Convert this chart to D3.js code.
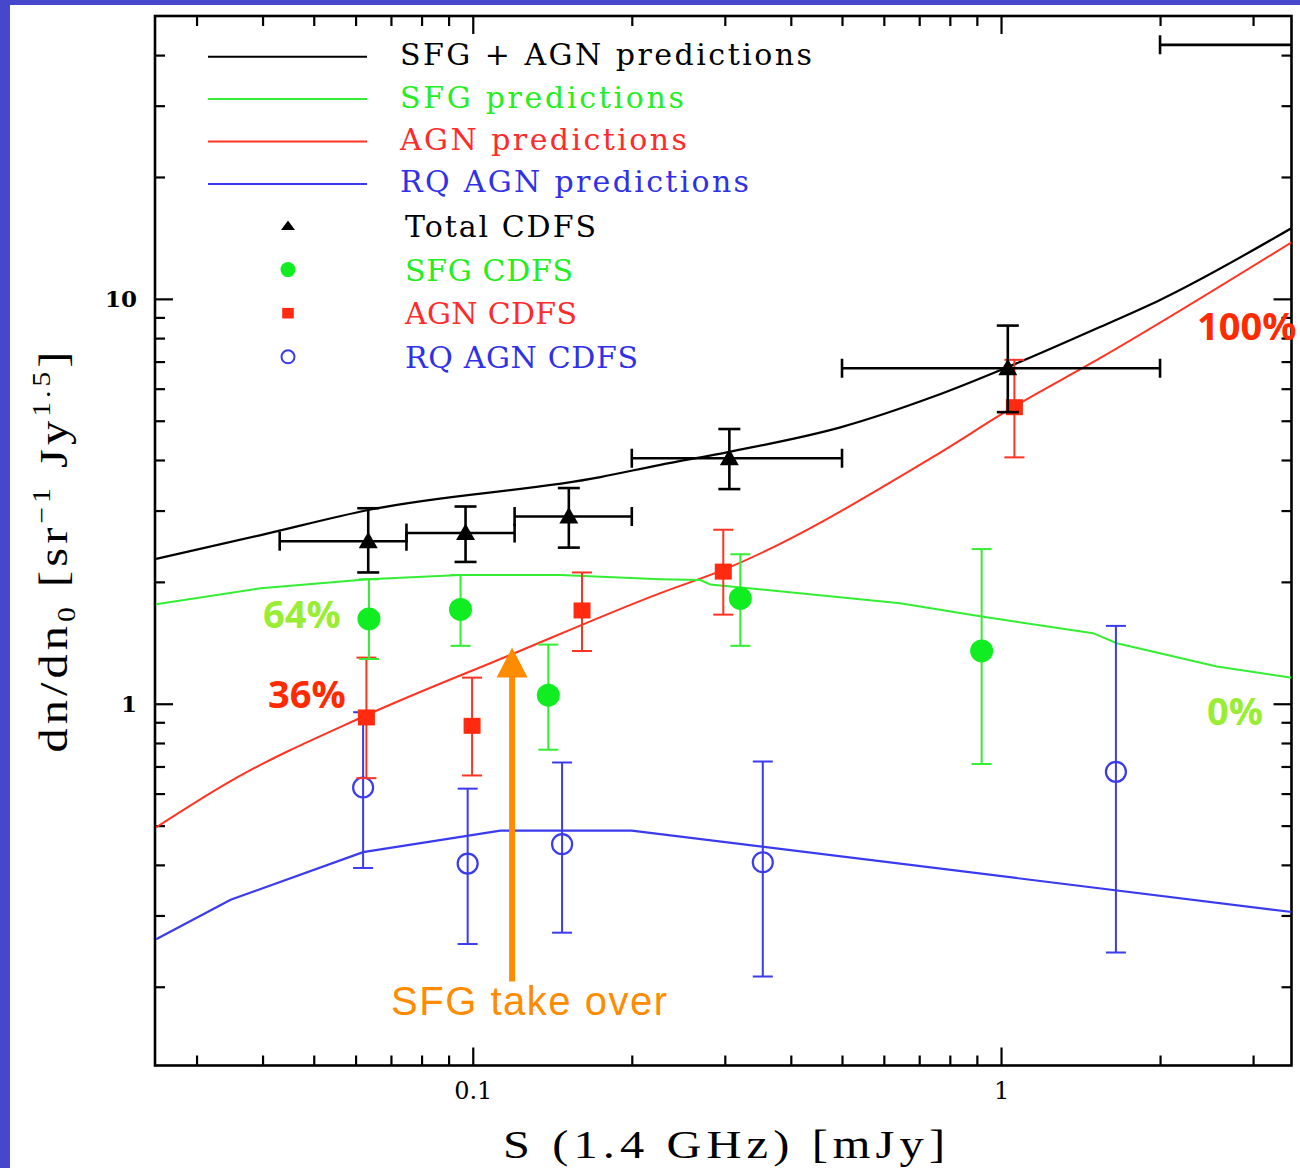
<!DOCTYPE html>
<html>
<head>
<meta charset="utf-8">
<script src="https://cdn.jsdelivr.net/npm/d3@7"></script>
<style>
  body { margin: 0; background: #fff; }
  svg { display: block; }
</style>
</head>
<body>
<svg id="chart" width="1300" height="1168"></svg>
<script>
// ---- CDFS points ----
var totS    = [0.0634, 0.0969, 0.152, 0.306, 1.03, 4.0];
var totN    = [2.52, 2.64, 2.90, 4.04, 6.74, 42.4];
var totLo   = [2.11, 2.24, 2.43, 3.39, 5.25, 36.0];
var totHi   = [3.04, 3.07, 3.41, 4.77, 8.59, 50.0];
var totSLo  = [0.0431, 0.0749, 0.12, 0.2, 0.5, 2.0];
var totSHi  = [0.0749, 0.12, 0.2, 0.5, 2.0, 8.0];

var sfgS  = [0.0636, 0.0948, 0.139, 0.321, 0.919];
var sfgN  = [1.62, 1.71, 1.05, 1.82, 1.35];
var sfgLo = [1.29, 1.39, 0.77, 1.39, 0.71];
var sfgHi = [2.03, 2.08, 1.40, 2.34, 2.41];

var agnS  = [0.0629, 0.0997, 0.161, 0.298, 1.06];
var agnN  = [0.925, 0.882, 1.70, 2.12, 5.40];
var agnLo = [0.655, 0.665, 1.35, 1.66, 4.06];
var agnHi = [1.30, 1.16, 2.11, 2.69, 7.07];

var rqS  = [0.062, 0.0978, 0.1476, 0.354, 1.65];
var rqN  = [0.621, 0.403, 0.450, 0.406, 0.679];
var rqLo = [0.393, 0.255, 0.272, 0.212, 0.243];
var rqHi = [0.953, 0.617, 0.716, 0.720, 1.557];

// ---- model predictions ----
var predTotS = [0.02515, 0.0397, 0.0634, 0.1744, 0.2265, 0.3058, 0.5003, 0.7435, 1.031, 1.539, 2.0, 3.55];
var predTotN = [2.28, 2.61, 3.01, 3.63, 3.89, 4.19, 4.83, 5.73, 6.79, 8.52, 9.94, 14.96];
var predSfgS = [0.02515, 0.0397, 0.0634, 0.0948, 0.1465, 0.2265, 0.2696, 0.2816, 0.644, 0.919, 1.493, 1.657, 2.562, 3.55];
var predSfgN = [1.762, 1.929, 2.031, 2.081, 2.081, 2.031, 2.02, 1.97, 1.772, 1.642, 1.494, 1.411, 1.236, 1.160];
var predAgnS = [0.02515, 0.0348, 0.0621, 0.1178, 0.2265, 0.298, 0.7435, 1.054, 1.539, 3.55];
var predAgnN = [0.495, 0.644, 0.930, 1.32, 1.876, 2.141, 4.07, 5.40, 7.135, 13.8];
var predRqS  = [0.02515, 0.0348, 0.062, 0.1128, 0.2, 3.55];
var predRqN  = [0.262, 0.328, 0.430, 0.486, 0.486, 0.306];

// ---- axes ticks ----
var xMajor = [0.1, 1];
var xMajorLabels = ["0.1", "1"];
var xMinor = [0.03, 0.04, 0.05, 0.06, 0.07, 0.08, 0.09, 0.2, 0.3, 0.4, 0.5, 0.6, 0.7, 0.8, 0.9, 2, 3];
var yMajor = [1, 10];
var yMajorLabels = ["1", "10"];
var yMinor = [0.2, 0.3, 0.4, 0.5, 0.6, 0.7, 0.8, 0.9, 2, 3, 4, 5, 6, 7, 8, 9, 20, 30, 40];

var legendLines = ["SFG + AGN predictions", "SFG predictions", "AGN predictions", "RQ AGN predictions"];
var legendPoints = ["Total CDFS", "SFG CDFS", "AGN CDFS", "RQ AGN CDFS"];

var BLACK = "#000", GREEN = "#33ee33", RED = "#ff3322", BLUE = "#3a3aee";

var svg = d3.select("#chart");
svg.append("rect").attr("width", 1300).attr("height", 1168).attr("fill", "#fff");
svg.append("rect").attr("x", 0).attr("y", 0).attr("width", 10).attr("height", 1168).attr("fill", "#4747cc");
svg.append("rect").attr("x", 0).attr("y", 0).attr("width", 1300).attr("height", 5).attr("fill", "#4747cc");

var L = 155, R = 1291.5, T = 16, B = 1065.5;
var x = d3.scaleLog().domain([0.02503, 3.547]).range([L, R]);
var y = d3.scaleLog().domain([0.1278, 49.96]).range([B, T]);

// ---- ticks on all four sides ----
function ticks(axis, vals, size, fmt) {
  return axis.tickValues(vals).tickSize(size).tickFormat(fmt || "");
}
var axes = svg.append("g").attr("class", "axes");
axes.append("g").attr("transform", "translate(0," + B + ")").call(ticks(d3.axisBottom(x), xMinor, -10));
axes.append("g").attr("transform", "translate(0," + T + ")").call(ticks(d3.axisTop(x), xMinor, -10));
axes.append("g").attr("transform", "translate(0," + T + ")").call(ticks(d3.axisTop(x), xMajor, -18));
axes.append("g").attr("transform", "translate(" + L + ",0)").call(ticks(d3.axisLeft(y), yMinor, -10));
axes.append("g").attr("transform", "translate(" + R + ",0)").call(ticks(d3.axisRight(y), yMinor, -10));
axes.append("g").attr("transform", "translate(" + R + ",0)").call(ticks(d3.axisRight(y), yMajor, -18));

var xLab = axes.append("g").attr("transform", "translate(0," + B + ")")
  .call(ticks(d3.axisBottom(x), xMajor, -18, function(d, i) { return xMajorLabels[i]; }).tickPadding(16));
xLab.selectAll("text").attr("font-family", "DejaVu Serif").attr("font-size", 24).attr("fill", "#000");

var yLab = axes.append("g").attr("transform", "translate(" + L + ",0)")
  .call(ticks(d3.axisLeft(y), yMajor, -18, function(d, i) { return yMajorLabels[i]; }).tickPadding(18));
yLab.selectAll("text").attr("font-family", "DejaVu Serif").attr("font-weight", "bold").attr("font-size", 23).attr("fill", "#000");

axes.selectAll(".domain").remove();
axes.selectAll(".tick line").attr("stroke", "#000").attr("stroke-width", 2.2);

svg.append("rect").attr("x", L).attr("y", T).attr("width", R - L).attr("height", B - T)
  .attr("fill", "none").attr("stroke", "#000").attr("stroke-width", 2.6);

// ---- plot contents (clipped to frame) ----
svg.append("clipPath").attr("id", "plotclip").append("rect")
  .attr("x", L).attr("y", T).attr("width", R - L).attr("height", B - T);
var plot = svg.append("g").attr("clip-path", "url(#plotclip)");

function drawPred(S, N, color, w, curve) {
  var line = d3.line().curve(curve)
    .x(function(d) { return x(d[0]); }).y(function(d) { return y(d[1]); });
  plot.append("path").datum(d3.zip(S, N)).attr("d", line)
    .attr("fill", "none").attr("stroke", color).attr("stroke-width", w);
}
drawPred(predRqS, predRqN, BLUE, 2.2, d3.curveLinear);
drawPred(predAgnS, predAgnN, RED, 2, d3.curveMonotoneX);
drawPred(predSfgS, predSfgN, GREEN, 2, d3.curveLinear);
drawPred(predTotS, predTotN, BLACK, 2.2, d3.curveMonotoneX);

function errBars(S, lo, hi, color, w, cap) {
  var g = plot.append("g").attr("stroke", color).attr("stroke-width", w);
  S.forEach(function(s, i) {
    var cx = x(s);
    g.append("line").attr("x1", cx).attr("x2", cx).attr("y1", y(lo[i])).attr("y2", y(hi[i]));
    g.append("line").attr("x1", cx - cap).attr("x2", cx + cap).attr("y1", y(lo[i])).attr("y2", y(lo[i]));
    g.append("line").attr("x1", cx - cap).attr("x2", cx + cap).attr("y1", y(hi[i])).attr("y2", y(hi[i]));
  });
}
function xBars(N, sLo, sHi, color, w, cap) {
  var g = plot.append("g").attr("stroke", color).attr("stroke-width", w);
  N.forEach(function(n, i) {
    var cy = y(n);
    g.append("line").attr("x1", x(sLo[i])).attr("x2", x(sHi[i])).attr("y1", cy).attr("y2", cy);
    g.append("line").attr("x1", x(sLo[i])).attr("x2", x(sLo[i])).attr("y1", cy - cap).attr("y2", cy + cap);
    g.append("line").attr("x1", x(sHi[i])).attr("x2", x(sHi[i])).attr("y1", cy - cap).attr("y2", cy + cap);
  });
}

function triPath(w, top, bot) {
  return "M0," + (-top) + "L" + (w / 2) + "," + bot + "L" + (-w / 2) + "," + bot + "Z";
}

errBars(rqS, rqLo, rqHi, BLUE, 2, 10);
plot.append("g").selectAll("circle").data(d3.zip(rqS, rqN)).enter().append("circle")
  .attr("cx", function(d) { return x(d[0]); }).attr("cy", function(d) { return y(d[1]); })
  .attr("r", 10).attr("fill", "none").attr("stroke", BLUE).attr("stroke-width", 2.2);

errBars(agnS, agnLo, agnHi, RED, 2, 10);
plot.append("g").selectAll("rect").data(d3.zip(agnS, agnN)).enter().append("rect")
  .attr("x", function(d) { return x(d[0]) - 8.5; }).attr("y", function(d) { return y(d[1]) - 8; })
  .attr("width", 17).attr("height", 16).attr("fill", "#ff2a10");

errBars(sfgS, sfgLo, sfgHi, GREEN, 2, 10);
plot.append("g").selectAll("circle").data(d3.zip(sfgS, sfgN)).enter().append("circle")
  .attr("cx", function(d) { return x(d[0]); }).attr("cy", function(d) { return y(d[1]); })
  .attr("r", 11.5).attr("fill", "#10ee22");

errBars(totS, totLo, totHi, BLACK, 2.6, 11);
xBars(totN, totSLo, totSHi, BLACK, 2.6, 9.5);
plot.append("g").selectAll("path").data(d3.zip(totS, totN)).enter().append("path")
  .attr("transform", function(d) { return "translate(" + x(d[0]) + "," + y(d[1]) + ")"; })
  .attr("d", triPath(19, 9.5, 7)).attr("fill", "#000");

// ---- legend ----
var leg = svg.append("g").attr("font-family", "DejaVu Serif").attr("font-size", 30);
var lineColors = [BLACK, GREEN, RED, BLUE];
var lineTextColors = ["#000", "#22ee22", "#ff2a2a", "#3030e8"];
var lineTextW = [412, 284, 287, 349];
legendLines.forEach(function(t, i) {
  var ly = 56.7 + i * 42.4;
  leg.append("line").attr("x1", 208).attr("x2", 367).attr("y1", ly).attr("y2", ly)
    .attr("stroke", lineColors[i]).attr("stroke-width", 2);
  leg.append("text").attr("x", 400).attr("y", ly + 8.5).attr("fill", lineTextColors[i])
    .attr("textLength", lineTextW[i]).attr("lengthAdjust", "spacing").text(t);
});
var ptTextW = [191, 168, 172, 233];
legendPoints.forEach(function(t, i) {
  var py = 226 + i * 43.6;
  var mk = leg.append("g").attr("transform", "translate(288," + py + ")");
  if (i === 0) mk.append("path").attr("d", triPath(14, 5.5, 4)).attr("fill", "#000");
  if (i === 1) mk.append("circle").attr("r", 7.5).attr("fill", "#10ee22");
  if (i === 2) mk.append("rect").attr("x", -5.8).attr("y", -5.3).attr("width", 11.6).attr("height", 10.6).attr("fill", "#ff2a10");
  if (i === 3) mk.append("circle").attr("r", 6.5).attr("fill", "none").attr("stroke", BLUE).attr("stroke-width", 2);
  leg.append("text").attr("x", 405).attr("y", py + 11).attr("fill", lineTextColors[i])
    .attr("textLength", ptTextW[i]).attr("lengthAdjust", "spacing").text(t);
});

// ---- axis titles (glyphs stretched a bit, like the wide TeX face) ----
var stretch = 1.18;
svg.append("text").attr("transform", "translate(503,1158) scale(" + stretch + ",1)")
  .attr("font-family", "Liberation Serif").attr("font-size", 41).attr("fill", "#000")
  .attr("textLength", 442 / stretch).attr("lengthAdjust", "spacing")
  .text("S (1.4 GHz) [mJy]");

var yt = svg.append("text").attr("transform", "translate(67,552) rotate(-90) scale(" + stretch + ",1)")
  .attr("text-anchor", "middle").attr("font-family", "Liberation Serif").attr("font-size", 41)
  .attr("fill", "#000").attr("textLength", 401 / stretch).attr("lengthAdjust", "spacing");
yt.append("tspan").text("dn/dn");
yt.append("tspan").attr("font-size", 25).attr("dy", 8).text("0");
yt.append("tspan").attr("dy", -8).text(" [sr");
yt.append("tspan").attr("font-size", 25).attr("dy", -17).text("\u22121");
yt.append("tspan").attr("dy", 17).text(" Jy");
yt.append("tspan").attr("font-size", 25).attr("dy", -17).text("1.5");
yt.append("tspan").attr("dy", 17).text("]");

// ---- annotations ----
var ann = svg.append("g").attr("font-family", "Open Sans").attr("font-weight", "bold").attr("font-size", 38);
ann.append("text").attr("x", 1197).attr("y", 340).attr("fill", "#ff2a00").text("100%");
ann.append("text").attr("x", 263).attr("y", 628).attr("fill", "#99ee33").text("64%");
ann.append("text").attr("x", 268).attr("y", 708).attr("fill", "#ff2a00").text("36%");
ann.append("text").attr("x", 1207).attr("y", 725).attr("fill", "#99ee33").text("0%");

var ax = x(0.1187);
svg.append("line").attr("x1", ax).attr("x2", ax).attr("y1", y(0.206)).attr("y2", y(1.25))
  .attr("stroke", "#ff8c00").attr("stroke-width", 6);
svg.append("path")
  .attr("d", "M" + ax + "," + y(1.377) + "L" + (ax + 15.5) + "," + (y(1.377) + 30) + "L" + (ax - 15.5) + "," + (y(1.377) + 30) + "Z")
  .attr("fill", "#ff8c00");
svg.append("text").attr("x", 391).attr("y", 1015)
  .attr("font-family", "Liberation Sans").attr("font-size", 40).attr("fill", "#ff8c00")
  .attr("textLength", 276).attr("lengthAdjust", "spacing").text("SFG take over");
</script>
</body>
</html>
